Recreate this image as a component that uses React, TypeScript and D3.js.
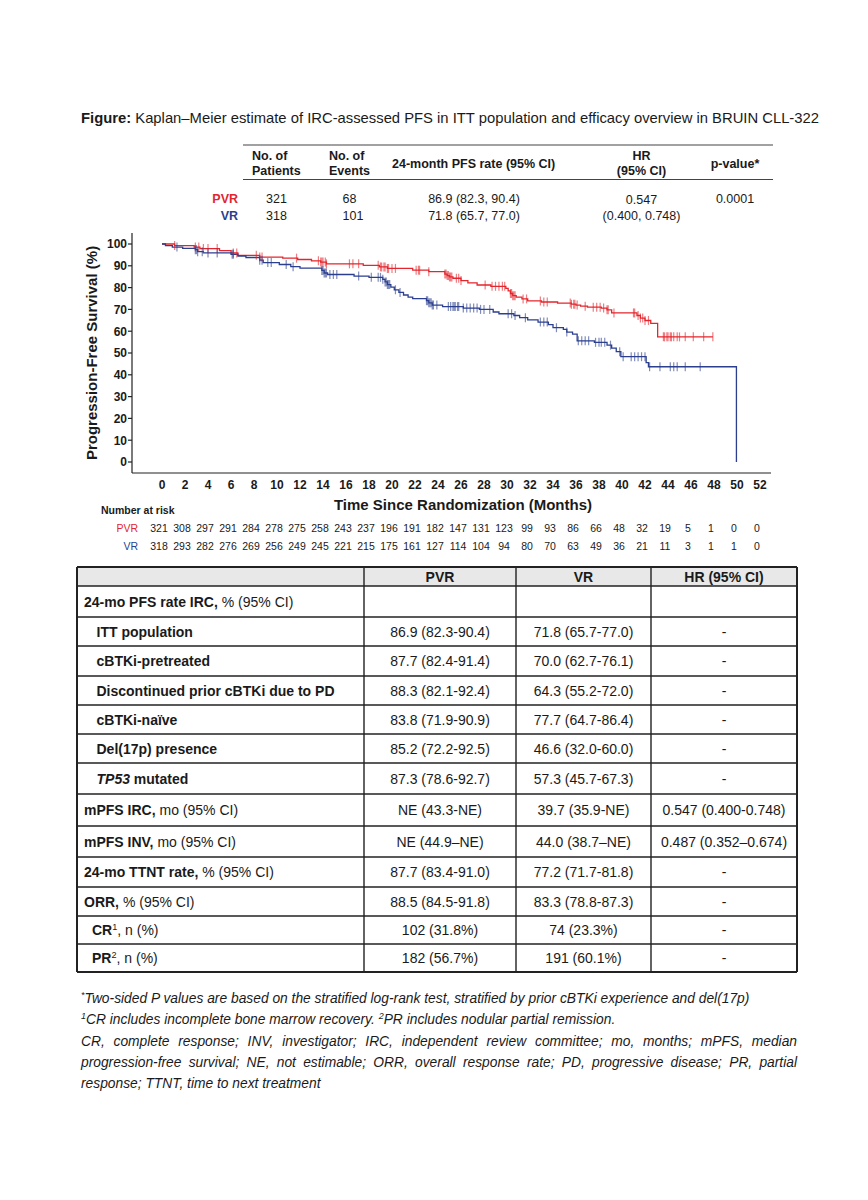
import React, { useLayoutEffect, useRef, useState } from 'react';
import * as d3 from 'd3';

const FONT = "'Liberation Sans', Arial, Helvetica, sans-serif";
const RED = '#e3262d';
const BLUE = '#2b3f8e';
const INK = '#1a1a1a';

// ---------- KM data ----------
const monthTicks = d3.range(0, 53, 2);
const pctTicks = d3.range(0, 101, 10);

const pvrSteps: [number, number][] = [
  [0, 100], [1.1, 99.3], [2.8, 98.6], [3.3, 97.9], [5.0, 97.0], [6.0, 95.9], [6.6, 94.8],
  [8.5, 94.0], [10.5, 93.5], [11.8, 92.9], [13.0, 92.3], [13.8, 91.7], [14.3, 90.9],
  [17.5, 90.2], [18.9, 89.5], [19.6, 88.8], [21.8, 88.0], [23.2, 87.3], [24.6, 86.2],
  [24.8, 85.5], [25.0, 84.9], [25.3, 84.3], [26.0, 83.2], [26.6, 82.2], [27.4, 81.2],
  [28.6, 80.6], [29.9, 79.6], [30.1, 78.5], [30.3, 77.3], [30.5, 76.3], [30.8, 75.6],
  [31.3, 74.8], [31.8, 73.9], [33.0, 73.4], [34.4, 72.9], [35.6, 72.4], [36.0, 72.0],
  [36.4, 71.5], [37.0, 71.0], [38.2, 70.6], [38.7, 69.8], [39.1, 68.4], [41.3, 67.2],
  [41.6, 66.0], [42.0, 64.9], [42.5, 63.6], [43.1, 57.4], [47.9, 57.4],
];

const vrSteps: [number, number][] = [
  [0, 100], [0.3, 99.3], [0.9, 98.6], [1.8, 98.0], [2.9, 97.4], [3.1, 96.5], [3.6, 95.9],
  [6.0, 95.3], [6.6, 94.5], [7.3, 93.8], [8.5, 92.6], [8.8, 91.5], [10.2, 90.6],
  [11.2, 89.6], [12.0, 88.9], [13.9, 87.9], [14.1, 86.7], [14.4, 86.0], [16.7, 85.3],
  [18.0, 84.7], [19.2, 83.8], [19.4, 82.6], [19.6, 81.4], [19.9, 80.2], [20.2, 79.0],
  [20.6, 77.8], [21.0, 76.6], [21.4, 75.6], [21.8, 74.9], [23.0, 74.0], [23.2, 73.0],
  [23.5, 72.0], [24.4, 71.3], [26.2, 70.6], [27.6, 70.0], [28.8, 68.8], [29.3, 68.0],
  [30.6, 67.2], [31.1, 66.2], [31.8, 65.2], [32.7, 64.2], [33.6, 63.0], [34.0, 61.6],
  [34.9, 60.8], [35.2, 59.6], [35.7, 58.7], [36.1, 55.6], [37.6, 54.9], [38.7, 53.6],
  [39.1, 52.2], [39.5, 50.6], [39.9, 48.3], [42.1, 45.6], [42.3, 43.7], [49.95, 0],
];

const pvrCensor: number[] = [
  1.1, 2.9, 3.2, 3.6, 4.0, 4.8, 6.2, 6.5, 8.2, 8.5, 8.7, 11.7, 13.6, 13.8, 13.9, 14.0,
  14.2, 14.3, 16.3, 16.6, 17.1, 18.8, 19.0, 19.1, 19.3, 19.4, 19.6, 19.7, 20.0, 20.3,
  22.1, 22.3, 22.4, 23.2, 24.6, 24.7, 24.8, 24.9, 25.0, 25.1, 25.2, 25.6, 25.8, 26.0,
  28.1, 28.7, 29.0, 29.3, 29.6, 29.8, 30.3, 30.4, 30.5, 30.6, 30.7, 31.4, 31.7, 32.9,
  33.2, 33.5, 35.5, 35.6, 35.8, 35.9, 36.1, 36.8, 37.5, 37.8, 38.1, 38.4, 38.7, 38.8,
  39.3, 41.0, 41.1, 41.4, 41.6, 41.8, 42.0, 42.3, 43.6, 43.7, 43.9, 44.0, 44.2, 44.3,
  44.5, 44.8, 45.0, 45.5, 46.2, 47.1, 47.9,
];

const vrCensor: number[] = [
  1.3, 2.9, 3.0, 3.1, 3.5, 4.0, 4.8, 6.1, 6.2, 8.5, 8.7, 9.2, 9.5, 10.8, 11.4, 13.9,
  14.0, 14.1, 14.2, 14.3, 14.6, 14.9, 15.2, 17.1, 18.2, 18.8, 19.0, 19.2, 19.4, 19.5,
  19.6, 19.7, 19.8, 20.3, 20.7, 23.0, 23.1, 23.2, 23.3, 23.4, 23.5, 23.6, 23.9, 24.9,
  25.1, 25.3, 25.4, 25.5, 25.7, 25.8, 26.2, 26.5, 26.8, 27.1, 27.4, 27.7, 28.0, 28.5,
  30.1, 30.4, 30.7, 31.6, 32.9, 33.2, 33.5, 34.3, 35.2, 36.2, 36.5, 36.8, 37.1, 37.7,
  38.0, 38.2, 38.5, 39.0, 39.8, 40.1, 40.8, 41.1, 41.4, 41.7, 42.0, 42.4, 43.3, 44.2,
  44.5, 44.8, 45.5, 46.8,
];

const pvrAtRisk = [321, 308, 297, 291, 284, 278, 275, 258, 243, 237, 196, 191, 182, 147, 131, 123, 99, 93, 86, 66, 48, 32, 19, 5, 1, 0, 0];
const vrAtRisk = [318, 293, 282, 276, 269, 256, 249, 245, 221, 215, 175, 161, 127, 114, 104, 94, 80, 70, 63, 49, 36, 21, 11, 3, 1, 1, 0];

// ---------- Summary table (top) ----------
const armNames = ['PVR', 'VR'];
const nPatients = ['321', '318'];
const nEvents = ['68', '101'];
const pfs24 = ['86.9 (82.3, 90.4)', '71.8 (65.7, 77.0)'];
const hrText = ['0.547', '(0.400, 0.748)'];
const pValue = '0.0001';

// ---------- Efficacy table ----------
const effHeaders = ['PVR', 'VR', 'HR (95% CI)'];
type Seg = { t: string; b?: boolean; i?: boolean; sup?: boolean };
const effLabels: Seg[][] = [
  [{ t: '24-mo PFS rate IRC,', b: true }, { t: ' % (95% CI)' }],
  [{ t: 'ITT population', b: true }],
  [{ t: 'cBTKi-pretreated', b: true }],
  [{ t: 'Discontinued prior cBTKi due to PD', b: true }],
  [{ t: 'cBTKi-naïve', b: true }],
  [{ t: 'Del(17p) presence', b: true }],
  [{ t: 'TP53', b: true, i: true }, { t: ' mutated', b: true }],
  [{ t: 'mPFS IRC,', b: true }, { t: ' mo (95% CI)' }],
  [{ t: 'mPFS INV,', b: true }, { t: ' mo (95% CI)' }],
  [{ t: '24-mo TTNT rate,', b: true }, { t: ' % (95% CI)' }],
  [{ t: 'ORR,', b: true }, { t: ' % (95% CI)' }],
  [{ t: 'CR', b: true }, { t: '1', sup: true }, { t: ', n (%)' }],
  [{ t: 'PR', b: true }, { t: '2', sup: true }, { t: ', n (%)' }],
];
const effLevel = [0, 2, 2, 2, 2, 2, 2, 0, 0, 0, 0, 1, 1];
const effPVR = ['', '86.9 (82.3-90.4)', '87.7 (82.4-91.4)', '88.3 (82.1-92.4)', '83.8 (71.9-90.9)', '85.2 (72.2-92.5)', '87.3 (78.6-92.7)', 'NE (43.3-NE)', 'NE (44.9–NE)', '87.7 (83.4-91.0)', '88.5 (84.5-91.8)', '102 (31.8%)', '182 (56.7%)'];
const effVR = ['', '71.8 (65.7-77.0)', '70.0 (62.7-76.1)', '64.3 (55.2-72.0)', '77.7 (64.7-86.4)', '46.6 (32.0-60.0)', '57.3 (45.7-67.3)', '39.7 (35.9-NE)', '44.0 (38.7–NE)', '77.2 (71.7-81.8)', '83.3 (78.8-87.3)', '74 (23.3%)', '191 (60.1%)'];
const effHR = ['', '-', '-', '-', '-', '-', '-', '0.547 (0.400-0.748)', '0.487 (0.352–0.674)', '-', '-', '-', '-'];

// ---------- Footnotes ----------
const footnotes: Seg[][] = [
  [{ t: '*', sup: true }, { t: 'Two-sided P values are based on the stratified log-rank test, stratified by prior cBTKi experience and del(17p)' }],
  [{ t: '1', sup: true }, { t: 'CR includes incomplete bone marrow recovery. ' }, { t: '2', sup: true }, { t: 'PR includes nodular partial remission.' }],
  [{ t: 'CR, complete response; INV, investigator; IRC, independent review committee; mo, months; mPFS, median' }],
  [{ t: 'progression-free survival; NE, not estimable; ORR, overall response rate; PD, progressive disease; PR, partial' }],
  [{ t: 'response; TTNT, time to next treatment' }],
];
const footJustify = [false, false, true, true, false];

function Rich(props: { x: number; y: number; segs: Seg[]; size: number; anchor?: string; fill?: string; italic?: boolean; justify?: number }) {
  const { x, y, segs, size, anchor, fill, italic, justify } = props;
  const ref = useRef<SVGTextElement>(null);
  const [ws, setWs] = useState(0);
  useLayoutEffect(() => {
    if (!justify || !ref.current) return;
    const w = ref.current.getComputedTextLength();
    const text = segs.map(s => s.t).join('');
    const spaces = (text.match(/ /g) || []).length;
    if (spaces > 0) setWs((justify - w) / spaces);
  }, [justify]);
  let up = false;
  const sh = size * 0.38;
  const kids = segs.map((s, k) => {
    let dy: number | undefined;
    if (s.sup && !up) { dy = -sh; up = true; }
    else if (!s.sup && up) { dy = sh; up = false; }
    return (
      <tspan key={k} dy={dy} fontWeight={s.b ? 'bold' : undefined} fontStyle={s.i ? 'italic' : undefined} fontSize={s.sup ? size * 0.65 : undefined}>
        {s.t}
      </tspan>
    );
  });
  return (
    <text ref={ref} x={x} y={y} fontSize={size} textAnchor={anchor as any} fill={fill || INK} fontStyle={italic ? 'italic' : undefined}
      style={{ whiteSpace: 'pre', wordSpacing: ws ? `${ws}px` : undefined }}>
      {kids}
    </text>
  );
}

function survAt(steps: [number, number][], t: number) {
  let v = steps[0][1];
  for (const [tt, vv] of steps) { if (tt <= t) v = vv; else break; }
  return v;
}

export default function App() {
  const xS = d3.scaleLinear().domain([0, 52]).range([162, 760]);
  const yS = d3.scaleLinear().domain([0, 100]).range([462, 244]);
  const line = d3.line<[number, number]>().x(d => xS(d[0])).y(d => yS(d[1])).curve(d3.curveStepAfter);
  const axisX0 = 132, axisY0 = 473;

  const colX = [77, 364, 516, 651, 797];
  const rowY = [567, 586, 617, 646, 676, 705, 734, 763, 794, 826, 857, 887, 916, 944, 972];
  const indentX = [84, 92, 96.5];

  return (
    <svg width={868} height={1200} style={{ position: 'absolute', left: 0, top: 0, background: '#fff' }} fontFamily={FONT}>
      <rect x={0} y={0} width={868} height={1200} fill="#fff" />
      {/* Title */}
      <Rich x={81} y={123} size={14.8} segs={[{ t: 'Figure:', b: true }, { t: ' Kaplan–Meier estimate of IRC-assessed PFS in ITT population and efficacy overview in BRUIN CLL-322' }]} />

      {/* Summary table */}
      <g fontSize={12.5}>
        <line x1={243} x2={773} y1={145} y2={145} stroke="#444" strokeWidth={1.2} />
        <line x1={243} x2={773} y1={179.5} y2={179.5} stroke="#444" strokeWidth={1.2} />
        <g fontWeight="bold" fill={INK}>
          <text x={252} y={159.5}>No. of</text>
          <text x={252} y={175}>Patients</text>
          <text x={329} y={159.5}>No. of</text>
          <text x={329} y={175}>Events</text>
          <text x={392} y={167.5}>24-month PFS rate (95% CI)</text>
          <text x={641.5} y={159.5} textAnchor="middle">HR</text>
          <text x={641.5} y={175} textAnchor="middle">(95% CI)</text>
          <text x={735} y={167.5} textAnchor="middle">p-value*</text>
        </g>
        {armNames.map((a, i) => {
          const y = i === 0 ? 202.5 : 219.5;
          return (
            <g key={a} fill={INK}>
              <text x={238} y={y} textAnchor="end" fontWeight="bold" fill={i === 0 ? RED : BLUE}>{a}</text>
              <text x={276.5} y={y} textAnchor="middle">{nPatients[i]}</text>
              <text x={i === 0 ? 349.5 : 353} y={y} textAnchor="middle">{nEvents[i]}</text>
              <text x={474} y={y} textAnchor="middle">{pfs24[i]}</text>
              <text x={641.5} y={i === 0 ? 204 : 219.5} textAnchor="middle">{hrText[i]}</text>
            </g>
          );
        })}
        <text x={735} y={203} textAnchor="middle" fill={INK}>{pValue}</text>
      </g>

      {/* KM axes */}
      <g stroke="#222" strokeWidth={1.2} fill="none">
        <line x1={axisX0} x2={axisX0} y1={233} y2={axisY0} />
        <line x1={axisX0} x2={771} y1={axisY0} y2={axisY0} />
        {pctTicks.map(p => <line key={p} x1={axisX0 - 4} x2={axisX0} y1={yS(p)} y2={yS(p)} />)}
      </g>
      <g fontSize={12} fontWeight="bold" fill={INK}>
        {pctTicks.map(p => <text key={p} x={127} y={yS(p) + 4.3} textAnchor="end">{p}</text>)}
        {monthTicks.map(m => <text key={m} x={xS(m)} y={488.5} textAnchor="middle">{m}</text>)}
      </g>
      <text transform="translate(97,353) rotate(-90)" textAnchor="middle" fontSize={15} fontWeight="bold" fill={INK}>Progression-Free Survival (%)</text>
      <text x={463} y={510} textAnchor="middle" fontSize={15} fontWeight="bold" fill={INK}>Time Since Randomization (Months)</text>

      {/* KM curves */}
      <path d={line(pvrSteps) || ''} fill="none" stroke={RED} strokeWidth={1.3} />
      <path d={line(vrSteps) || ''} fill="none" stroke={BLUE} strokeWidth={1.3} />
      <g stroke={RED} strokeWidth={1.2} strokeOpacity={0.6}>
        {pvrCensor.map((t, k) => { const y = yS(survAt(pvrSteps, t)); return <line key={k} x1={xS(t)} x2={xS(t)} y1={y - 4.5} y2={y + 4.5} />; })}
      </g>
      <g stroke={BLUE} strokeWidth={1.2} strokeOpacity={0.6}>
        {vrCensor.map((t, k) => { const y = yS(survAt(vrSteps, t)); return <line key={k} x1={xS(t)} x2={xS(t)} y1={y - 4.5} y2={y + 4.5} />; })}
      </g>

      {/* Number at risk */}
      <text x={101} y={514} fontSize={10.5} fontWeight="bold" fill={INK}>Number at risk</text>
      <g fontSize={10.5} fill={INK}>
        <text x={138} y={532} textAnchor="end" fill={RED}>PVR</text>
        <text x={138} y={550} textAnchor="end" fill={BLUE}>VR</text>
        {pvrAtRisk.map((n, i) => <text key={'p' + i} x={xS(monthTicks[i]) - 3} y={532} textAnchor="middle">{n}</text>)}
        {vrAtRisk.map((n, i) => <text key={'v' + i} x={xS(monthTicks[i]) - 3} y={550} textAnchor="middle">{n}</text>)}
      </g>

      {/* Efficacy table */}
      <rect x={colX[0]} y={rowY[0]} width={colX[4] - colX[0]} height={rowY[1] - rowY[0]} fill="#e8e8e8" />
      <g stroke="#222" strokeWidth={1.4}>
        {rowY.map((y, k) => <line key={'h' + k} x1={colX[0]} x2={colX[4]} y1={y} y2={y} strokeWidth={k === 0 || k === rowY.length - 1 ? 2 : 1.4} />)}
        {colX.map((x, k) => <line key={'v' + k} x1={x} x2={x} y1={rowY[0]} y2={rowY[rowY.length - 1]} strokeWidth={k === 0 || k === colX.length - 1 ? 2 : 1.4} />)}
      </g>
      <g fontSize={14} fontWeight="bold" fill={INK}>
        {effHeaders.map((h, k) => <text key={h} x={(colX[k + 1] + colX[k + 2]) / 2} y={(rowY[0] + rowY[1]) / 2 + 5} textAnchor="middle">{h}</text>)}
      </g>
      {effLabels.map((segs, r) => {
        const cy = (rowY[r + 1] + rowY[r + 2]) / 2 + 5;
        return (
          <g key={r}>
            <Rich x={indentX[effLevel[r]]} y={cy} size={14} segs={segs} />
            <g fontSize={14} fill={INK} textAnchor="middle">
              <text x={(colX[1] + colX[2]) / 2} y={cy}>{effPVR[r]}</text>
              <text x={(colX[2] + colX[3]) / 2} y={cy}>{effVR[r]}</text>
              <text x={(colX[3] + colX[4]) / 2} y={cy}>{effHR[r]}</text>
            </g>
          </g>
        );
      })}

      {/* Footnotes */}
      {footnotes.map((segs, k) => (
        <Rich key={k} x={81} y={[1003, 1024, 1046, 1067, 1088][k]} size={13.8} italic segs={segs} justify={footJustify[k] ? 716 : undefined} />
      ))}
    </svg>
  );
}
